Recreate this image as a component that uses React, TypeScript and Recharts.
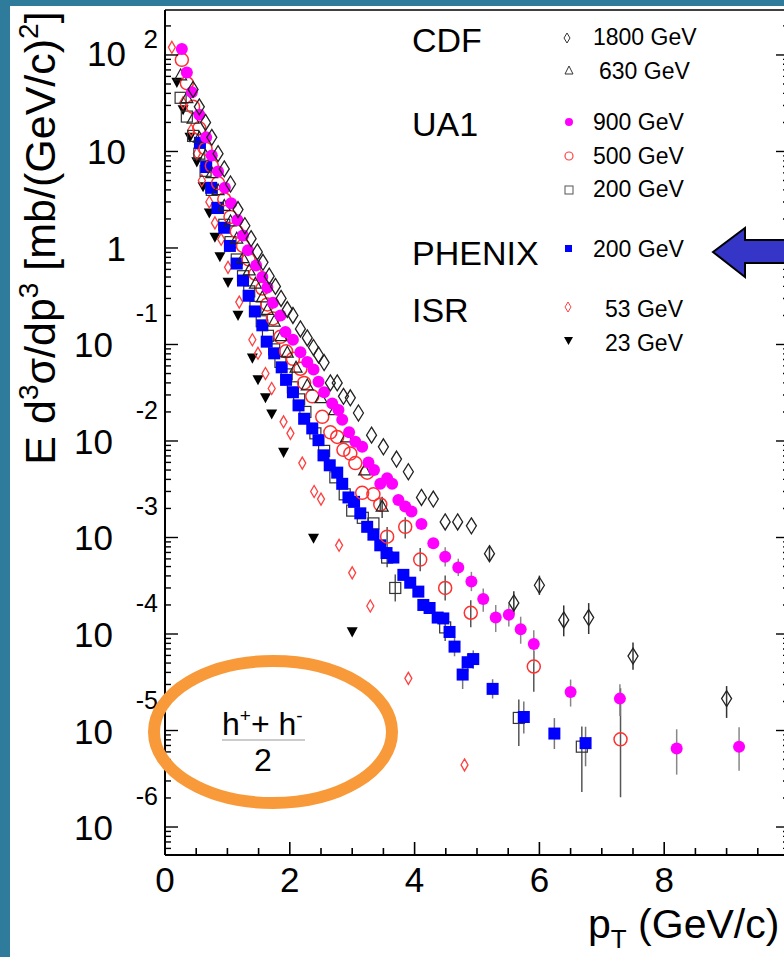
import React from "react";
import { ScatterChart, Scatter, XAxis, YAxis, ErrorBar } from "recharts";

// ---- data: pT (GeV/c) and invariant cross section (mb/(GeV/c)^2) ----
// error bars: [pT, up in decades, down in decades]

const cdf1800Pt = [0.45, 0.55, 0.65, 0.75, 0.85, 0.95, 1.05, 1.17, 1.28, 1.38, 1.48, 1.57, 1.67, 1.77, 1.86, 1.96, 2.05, 2.17, 2.28, 2.38, 2.46, 2.55, 2.65, 2.76, 2.86, 2.97, 3.1, 3.31, 3.5, 3.71, 3.9, 4.11, 4.3, 4.49, 4.69, 4.91, 5.2, 5.59, 6.0, 6.39, 6.79, 7.5, 9.0];
const cdf1800Val = [44, 29, 20, 14, 9.5, 6.6, 4.6, 2.5, 1.7, 1.25, 0.91, 0.71, 0.51, 0.4, 0.3, 0.23, 0.2, 0.145, 0.117, 0.093, 0.078, 0.065, 0.04, 0.04, 0.029, 0.028, 0.0195, 0.0115, 0.0087, 0.0065, 0.0048, 0.0026, 0.0025, 0.00145, 0.00145, 0.00132, 0.00068, 0.00021, 0.00032, 0.00014, 0.000148, 0.000059, 0.0000214];
const cdf1800Err: [number, number, number][] = [[5.2, 0.07, 0.07], [5.59, 0.12, 0.12], [6.0, 0.1, 0.1], [6.39, 0.15, 0.17], [6.79, 0.15, 0.17], [7.5, 0.14, 0.14], [9.0, 0.13, 0.2]];

const cdf630Pt = [0.25, 0.35, 0.45, 0.55, 0.65, 0.75, 0.85, 0.95, 1.05, 1.15, 1.25, 1.35, 1.45, 1.56, 1.64, 1.75, 1.86, 1.96, 2.1, 2.28, 2.5, 2.72, 2.91, 3.2, 3.48];
const cdf630Val = [62, 36, 22, 14, 9.1, 6.0, 4.0, 2.75, 1.9, 1.26, 0.79, 0.59, 0.43, 0.31, 0.23, 0.174, 0.123, 0.083, 0.058, 0.038, 0.028, 0.021, 0.011, 0.005, 0.0021];
const cdf630Err: [number, number, number][] = [[3.48, 0.1, 0.12]];

const ua1900Pt = [0.27, 0.35, 0.43, 0.55, 0.66, 0.75, 0.85, 0.96, 1.06, 1.16, 1.25, 1.33, 1.46, 1.56, 1.64, 1.73, 1.85, 1.93, 2.05, 2.17, 2.28, 2.38, 2.46, 2.55, 2.68, 2.78, 2.84, 2.95, 3.05, 3.16, 3.26, 3.35, 3.45, 3.56, 3.64, 3.74, 3.85, 3.95, 4.11, 4.3, 4.49, 4.7, 4.91, 5.1, 5.3, 5.51, 5.7, 5.91, 6.5, 7.29, 8.2, 9.2];
const ua1900Val = [115, 66, 41, 24, 14, 9.1, 6.2, 4.2, 2.9, 1.95, 1.35, 0.95, 0.66, 0.5, 0.39, 0.27, 0.2, 0.135, 0.112, 0.083, 0.066, 0.055, 0.041, 0.032, 0.0245, 0.021, 0.0166, 0.0123, 0.0098, 0.0087, 0.006, 0.005, 0.0036, 0.0041, 0.0036, 0.00245, 0.0021, 0.00186, 0.00138, 0.00087, 0.00063, 0.00049, 0.00035, 0.00023, 0.000148, 0.000158, 0.000112, 0.000079, 0.000025, 0.0000214, 0.0000065, 0.0000068];
const ua1900Err: [number, number, number][] = [[4.49, 0.1, 0.1], [4.7, 0.09, 0.09], [4.91, 0.1, 0.1], [5.1, 0.11, 0.13], [5.3, 0.13, 0.15], [5.51, 0.11, 0.12], [5.7, 0.13, 0.15], [5.91, 0.14, 0.2], [6.5, 0.13, 0.15], [7.29, 0.15, 0.18], [8.2, 0.2, 0.27], [9.2, 0.2, 0.25]];

const ua1500Pt = [0.27, 0.35, 0.45, 0.55, 0.65, 0.75, 0.85, 0.95, 1.05, 1.15, 1.25, 1.34, 1.45, 1.56, 1.64, 1.73, 1.85, 1.94, 2.05, 2.17, 2.23, 2.36, 2.52, 2.65, 2.76, 2.86, 2.97, 3.05, 3.16, 3.24, 3.34, 3.45, 3.56, 3.85, 4.09, 4.49, 4.9, 5.91, 7.3];
const ua1500Val = [89, 51, 29, 17.4, 10.7, 7.1, 4.7, 3.2, 2.1, 1.48, 1.05, 0.76, 0.54, 0.38, 0.26, 0.186, 0.12, 0.085, 0.071, 0.056, 0.04, 0.029, 0.0178, 0.0123, 0.011, 0.0081, 0.0074, 0.0059, 0.0029, 0.0047, 0.0028, 0.0022, 0.00102, 0.00129, 0.00059, 0.0003, 0.000166, 0.000046, 0.0000081];
const ua1500Err: [number, number, number][] = [[3.45, 0.06, 0.07], [3.56, 0.1, 0.12], [3.85, 0.1, 0.12], [4.09, 0.12, 0.12], [4.49, 0.13, 0.13], [4.9, 0.13, 0.15], [5.91, 0.16, 0.26], [7.3, 0.53, 0.6]];

const ua1200Pt = [0.25, 0.35, 0.45, 0.55, 0.65, 0.75, 0.85, 0.95, 1.05, 1.15, 1.25, 1.35, 1.45, 1.55, 1.65, 1.75, 1.85, 1.95, 2.05, 2.15, 2.25, 2.41, 2.55, 2.73, 2.88, 3.0, 3.17, 3.34, 3.56, 3.69, 4.49, 5.67, 6.68];
const ua1200Val = [36, 23, 14.5, 9.5, 6.3, 4.0, 2.6, 1.74, 1.15, 0.76, 0.51, 0.355, 0.245, 0.174, 0.123, 0.089, 0.066, 0.049, 0.036, 0.027, 0.02, 0.012, 0.0079, 0.0042, 0.0028, 0.0019, 0.0016, 0.0014, 0.00062, 0.0003, 0.000117, 0.0000135, 0.0000068];
const ua1200Err: [number, number, number][] = [[3.56, 0.1, 0.1], [3.69, 0.14, 0.14], [4.49, 0.12, 0.14], [5.67, 0.19, 0.29], [6.68, 0.21, 0.47]];

const phenixPt = [0.56, 0.66, 0.74, 0.84, 0.95, 1.04, 1.15, 1.25, 1.34, 1.44, 1.56, 1.63, 1.75, 1.87, 1.94, 2.05, 2.14, 2.23, 2.36, 2.46, 2.54, 2.64, 2.76, 2.84, 2.94, 3.03, 3.13, 3.24, 3.34, 3.45, 3.55, 3.66, 3.82, 3.93, 4.06, 4.14, 4.24, 4.37, 4.46, 4.56, 4.64, 4.77, 4.85, 4.94, 5.25, 5.75, 6.24, 6.74];
const phenixVal = [12.3, 6.9, 4.2, 2.6, 1.62, 1.05, 0.69, 0.46, 0.32, 0.22, 0.158, 0.107, 0.081, 0.058, 0.043, 0.032, 0.0234, 0.017, 0.0135, 0.0102, 0.0071, 0.0056, 0.0047, 0.0036, 0.0026, 0.00234, 0.00178, 0.00129, 0.00107, 0.00083, 0.00069, 0.00062, 0.00041, 0.00034, 0.000275, 0.0002, 0.000186, 0.000148, 0.000145, 0.000105, 0.000074, 0.000038, 0.000051, 0.000055, 0.000027, 0.0000138, 0.0000093, 0.0000074];
const phenixErr: [number, number, number][] = [[4.64, 0.1, 0.1], [4.77, 0.15, 0.15], [4.85, 0.09, 0.1], [4.94, 0.09, 0.1], [5.25, 0.1, 0.1], [5.75, 0.16, 0.17], [6.24, 0.16, 0.16], [6.74, 0.17, 0.24]];

const isr53Pt = [0.11, 0.29, 0.42, 0.51, 0.59, 0.71, 0.8, 0.9, 1.01, 1.19, 1.4, 1.49, 1.61, 1.71, 1.9, 2.01, 2.2, 2.39, 2.5, 2.79, 3.0, 3.29, 3.9, 4.8];
const isr53Val = [120, 32, 16.6, 9.5, 5.0, 3.0, 1.82, 1.23, 0.63, 0.275, 0.112, 0.081, 0.05, 0.035, 0.0158, 0.012, 0.0059, 0.003, 0.0025, 0.00083, 0.00043, 0.000195, 0.0000347, 0.0000044];

const isr23Pt = [0.19, 0.29, 0.4, 0.51, 0.61, 0.71, 0.8, 0.88, 1.01, 1.17, 1.4, 1.49, 1.61, 1.71, 1.9, 2.38, 3.0];
const isr23Val = [52, 27, 14, 7.8, 4.3, 2.3, 1.29, 0.81, 0.44, 0.2, 0.072, 0.043, 0.028, 0.019, 0.0076, 0.00098, 0.000105];

const xTicks = [0, 0.5, 1, 1.5, 2, 2.5, 3, 3.5, 4, 4.5, 5, 5.5, 6, 6.5, 7, 7.5, 8, 8.5, 9, 9.5, 10];
const xLabels = [0, 2, 4, 6, 8];
const yDecades = [-7, -6, -5, -4, -3, -2, -1, 0, 1, 2];
const yMantissas = [1, 2, 3, 4, 5, 6, 7, 8, 9];

const yMin = 10 ** -6.29;
const yMax = 10 ** 2.466;
const yTicks = yDecades
  .flatMap((d) => yMantissas.map((m) => m * 10 ** d))
  .filter((v) => v >= yMin && v <= yMax);

const FONT = "'Liberation Sans', Arial, Helvetica, sans-serif";

type Row = { pt: number; val: number; err?: [number, number] };

function makeRows(pt: number[], val: number[], errs: [number, number, number][] = []): Row[] {
  return pt.map((p, i) => {
    const v = val[i];
    const e = errs.find((x) => Math.abs(x[0] - p) < 1e-6);
    if (!e) return { pt: p, val: v };
    return { pt: p, val: v, err: [v - v * 10 ** -e[2], v * 10 ** e[1] - v] };
  });
}

const cdf1800 = makeRows(cdf1800Pt, cdf1800Val, cdf1800Err);
const cdf630 = makeRows(cdf630Pt, cdf630Val, cdf630Err);
const ua1900 = makeRows(ua1900Pt, ua1900Val, ua1900Err);
const ua1500 = makeRows(ua1500Pt, ua1500Val, ua1500Err);
const ua1200 = makeRows(ua1200Pt, ua1200Val, ua1200Err);
const phenix = makeRows(phenixPt, phenixVal, phenixErr);
const isr53 = makeRows(isr53Pt, isr53Val);
const isr23 = makeRows(isr23Pt, isr23Val);

// ---- marker shapes ----
const diamond = (w: number, h: number, color: string, sw: number) => (p: any) => (
  <path
    d={`M${p.cx},${p.cy - h}L${p.cx + w},${p.cy}L${p.cx},${p.cy + h}L${p.cx - w},${p.cy}Z`}
    fill="none"
    stroke={color}
    strokeWidth={sw}
  />
);
const triUp = (s: number, color: string) => (p: any) => (
  <path
    d={`M${p.cx},${p.cy - s}L${p.cx + s},${p.cy + s * 0.8}L${p.cx - s},${p.cy + s * 0.8}Z`}
    fill="none"
    stroke={color}
    strokeWidth={1.2}
  />
);
const triDown = (s: number, color: string) => (p: any) => (
  <path
    d={`M${p.cx - s},${p.cy - s * 0.85}L${p.cx + s},${p.cy - s * 0.85}L${p.cx},${p.cy + s}Z`}
    fill={color}
  />
);
const dot = (r: number, color: string) => (p: any) => <circle cx={p.cx} cy={p.cy} r={r} fill={color} />;
const ring = (r: number, color: string) => (p: any) => (
  <circle cx={p.cx} cy={p.cy} r={r} fill="none" stroke={color} strokeWidth={1.5} />
);
const box = (s: number, color: string, filled: boolean) => (p: any) => (
  <rect
    x={p.cx - s}
    y={p.cy - s}
    width={2 * s}
    height={2 * s}
    fill={filled ? color : "none"}
    stroke={filled ? "none" : color}
    strokeWidth={1.2}
  />
);

// ---- axis ticks (drawn inward, ROOT style) ----
const XTick = (props: any) => {
  const { x, y, payload, side } = props;
  const v = payload.value as number;
  const major = Math.abs(v / 2 - Math.round(v / 2)) < 1e-9;
  const len = major ? 13 : 7;
  const dir = side === "bottom" ? -1 : 1;
  return (
    <g>
      <line x1={x} x2={x} y1={y} y2={y + dir * len} stroke="#000" strokeWidth={1.6} />
      {side === "bottom" && xLabels.includes(v) && (
        <text x={x} y={y + 37} textAnchor="middle" fontSize={35} fontFamily={FONT} fill="#000">
          {v}
        </text>
      )}
    </g>
  );
};

const YTick = (props: any) => {
  const { x, y, payload, side } = props;
  const v = payload.value as number;
  const lg = Math.log10(v);
  const e = Math.round(lg);
  const major = Math.abs(lg - e) < 1e-6;
  const len = major ? 13 : 6;
  const dir = side === "left" ? 1 : -1;
  let label: React.ReactNode = null;
  if (side === "left" && major) {
    if (e === 0 || e === 1) {
      label = (
        <text x={x - 39} y={y + 13} textAnchor="end" fontSize={35} fontFamily={FONT} fill="#000">
          {e === 0 ? "1" : "10"}
        </text>
      );
    } else if (e > 1) {
      label = (
        <g fontFamily={FONT} fill="#000">
          <text x={x - 39} y={y + 11} textAnchor="end" fontSize={35}>10</text>
          <text x={x - 7} y={y - 7} textAnchor="end" fontSize={26}>{e}</text>
        </g>
      );
    } else {
      label = (
        <g fontFamily={FONT} fill="#000">
          <text x={x - 52} y={y + 13} textAnchor="end" fontSize={35}>10</text>
          <text x={x - 7} y={y - 22} textAnchor="end" fontSize={25}>{e}</text>
        </g>
      );
    }
  }
  return (
    <g>
      <line x1={x} x2={x + dir * len} y1={y} y2={y} stroke="#000" strokeWidth={1.4} />
      {label}
    </g>
  );
};

const series = [
  { id: "isr23", data: isr23, shape: triDown(5.5, "#000") },
  { id: "isr53", data: isr53, shape: diamond(3.5, 6, "#ff4040", 1.3) },
  { id: "ua1200", data: ua1200, shape: box(5.5, "#333", false), bar: "#555" },
  { id: "phenix", data: phenix, shape: box(6, "#0000ff", true), bar: "#777" },
  { id: "ua1500", data: ua1500, shape: ring(6.5, "#ff3030"), bar: "#555" },
  { id: "cdf630", data: cdf630, shape: triUp(6, "#222"), bar: "#444" },
  { id: "ua1900", data: ua1900, shape: dot(6, "#ff00ff"), bar: "#888" },
  { id: "cdf1800", data: cdf1800, shape: diamond(5, 8, "#222", 1.3), bar: "#333" },
];

function Overlay() {
  const entry = { fontSize: 23, fontFamily: FONT, fill: "#000" } as const;
  const group = { fontSize: 34, fontFamily: FONT, fill: "#000" } as const;
  return (
    <svg
      width={784}
      height={957}
      style={{ position: "absolute", left: 0, top: 0, pointerEvents: "none" }}
    >
      {/* axis titles */}
      <text
        transform="translate(55,238) rotate(-90)"
        textAnchor="middle"
        fontSize={43}
        fontFamily={FONT}
        fill="#000"
      >
        E d<tspan dy={-17} fontSize={28}>3</tspan>
        <tspan dy={17}>σ/dp</tspan>
        <tspan dy={-17} fontSize={28}>3</tspan>
        <tspan dy={17}> [mb/(GeV/c)</tspan>
        <tspan dy={-17} fontSize={28}>2</tspan>
        <tspan dy={17}>]</tspan>
      </text>
      <text x={588} y={938} fontSize={41} fontFamily={FONT} fill="#000">
        p<tspan dy={10} fontSize={26}>T</tspan>
        <tspan dy={-10}> (GeV/c)</tspan>
      </text>

      {/* legend */}
      <text x={412} y={52} {...group}>CDF</text>
      <text x={412} y={136} {...group}>UA1</text>
      <text x={412} y={265} {...group}>PHENIX</text>
      <text x={412} y={322} {...group}>ISR</text>

      <path d="M567,33L570,38L567,43L564,38Z" fill="none" stroke="#333" strokeWidth={1} />
      <text x={593} y={45} {...entry}>1800 GeV</text>
      <path d="M569,66L573,74L565,74Z" fill="none" stroke="#333" strokeWidth={1} />
      <text x={599} y={79} {...entry}>630 GeV</text>
      <circle cx={569} cy={122} r={4} fill="#ff00ff" />
      <text x={593} y={130} {...entry}>900 GeV</text>
      <circle cx={569} cy={156} r={4} fill="none" stroke="#ff4040" strokeWidth={1.2} />
      <text x={593} y={164} {...entry}>500 GeV</text>
      <rect x={565} y={186} width={8} height={8} fill="none" stroke="#555" strokeWidth={1} />
      <text x={593} y={197} {...entry}>200 GeV</text>
      <rect x={565} y={245} width={7} height={7} fill="#0000ff" />
      <text x={593} y={257} {...entry}>200 GeV</text>
      <path d="M568,302L571,307L568,312L565,307Z" fill="none" stroke="#ff4040" strokeWidth={1} />
      <text x={605} y={317} {...entry}>53 GeV</text>
      <path d="M564,337L573,337L568.5,345Z" fill="#000" />
      <text x={605} y={351} {...entry}>23 GeV</text>

      {/* arrow pointing at the PHENIX entry */}
      <path
        d="M713,252L745,228L745,240L792,240L792,263L745,263L745,277Z"
        fill="#3535c8"
        stroke="#000"
        strokeWidth={2}
      />

      {/* charge-averaged hadrons note */}
      <ellipse cx={273} cy={732} rx={119} ry={71} fill="none" stroke="#f89a3a" strokeWidth={12} />
      <text x={222} y={735} fontSize={32} fontFamily={FONT} fill="#000">
        h<tspan dy={-13} fontSize={19}>+</tspan>
        <tspan dy={13}>+ h</tspan>
        <tspan dy={-13} fontSize={19}>-</tspan>
      </text>
      <line x1={222} x2={305} y1={740} y2={740} stroke="#999" strokeWidth={1.2} />
      <text x={263} y={771} textAnchor="middle" fontSize={32} fontFamily={FONT} fill="#000">
        2
      </text>
    </svg>
  );
}

export default function App() {
  return (
    <div
      style={{
        position: "absolute",
        left: 0,
        top: 0,
        width: 784,
        height: 957,
        overflow: "hidden",
        background: "#2e7b9b",
      }}
    >
      <div style={{ position: "absolute", left: 10, top: 6, right: 0, bottom: 0, background: "#fff" }} />
      <div style={{ position: "absolute", left: 0, top: 0 }}>
        <ScatterChart width={800} height={957} margin={{ top: 0, right: 0, bottom: 62, left: 105 }}>
          <XAxis
            xAxisId="b"
            type="number"
            dataKey="pt"
            domain={[0, 10]}
            ticks={xTicks}
            interval={0}
            height={40}
            tickSize={0}
            tickMargin={0}
            tickLine={false}
            axisLine={{ stroke: "#000", strokeWidth: 2 }}
            tick={(p: any) => <XTick {...p} side="bottom" />}
          />
          <XAxis
            xAxisId="t"
            orientation="top"
            type="number"
            dataKey="pt"
            domain={[0, 10]}
            ticks={xTicks}
            interval={0}
            height={10}
            tickSize={0}
            tickMargin={0}
            tickLine={false}
            axisLine={{ stroke: "#000", strokeWidth: 1.6 }}
            tick={(p: any) => <XTick {...p} side="top" />}
          />
          <YAxis
            yAxisId="l"
            type="number"
            dataKey="val"
            scale="log"
            domain={[yMin, yMax]}
            allowDataOverflow
            ticks={yTicks}
            interval={0}
            width={60}
            tickSize={0}
            tickMargin={0}
            tickLine={false}
            axisLine={{ stroke: "#000", strokeWidth: 2 }}
            tick={(p: any) => <YTick {...p} side="left" />}
          />
          <YAxis
            yAxisId="r"
            orientation="right"
            type="number"
            dataKey="val"
            scale="log"
            domain={[yMin, yMax]}
            allowDataOverflow
            ticks={yTicks}
            interval={0}
            width={11}
            tickSize={0}
            tickMargin={0}
            tickLine={false}
            axisLine={{ stroke: "#000", strokeWidth: 2 }}
            tick={(p: any) => <YTick {...p} side="right" />}
          />
          <Scatter xAxisId="t" yAxisId="r" data={[]} isAnimationActive={false} />
          {series.map((s) => (
            <Scatter
              key={s.id}
              name={s.id}
              xAxisId="b"
              yAxisId="l"
              data={s.data}
              shape={s.shape}
              isAnimationActive={false}
            >
              {s.bar && (
                <ErrorBar dataKey="err" direction="y" width={0} stroke={s.bar} strokeWidth={1.5} />
              )}
            </Scatter>
          ))}
        </ScatterChart>
      </div>
      <Overlay />
    </div>
  );
}
